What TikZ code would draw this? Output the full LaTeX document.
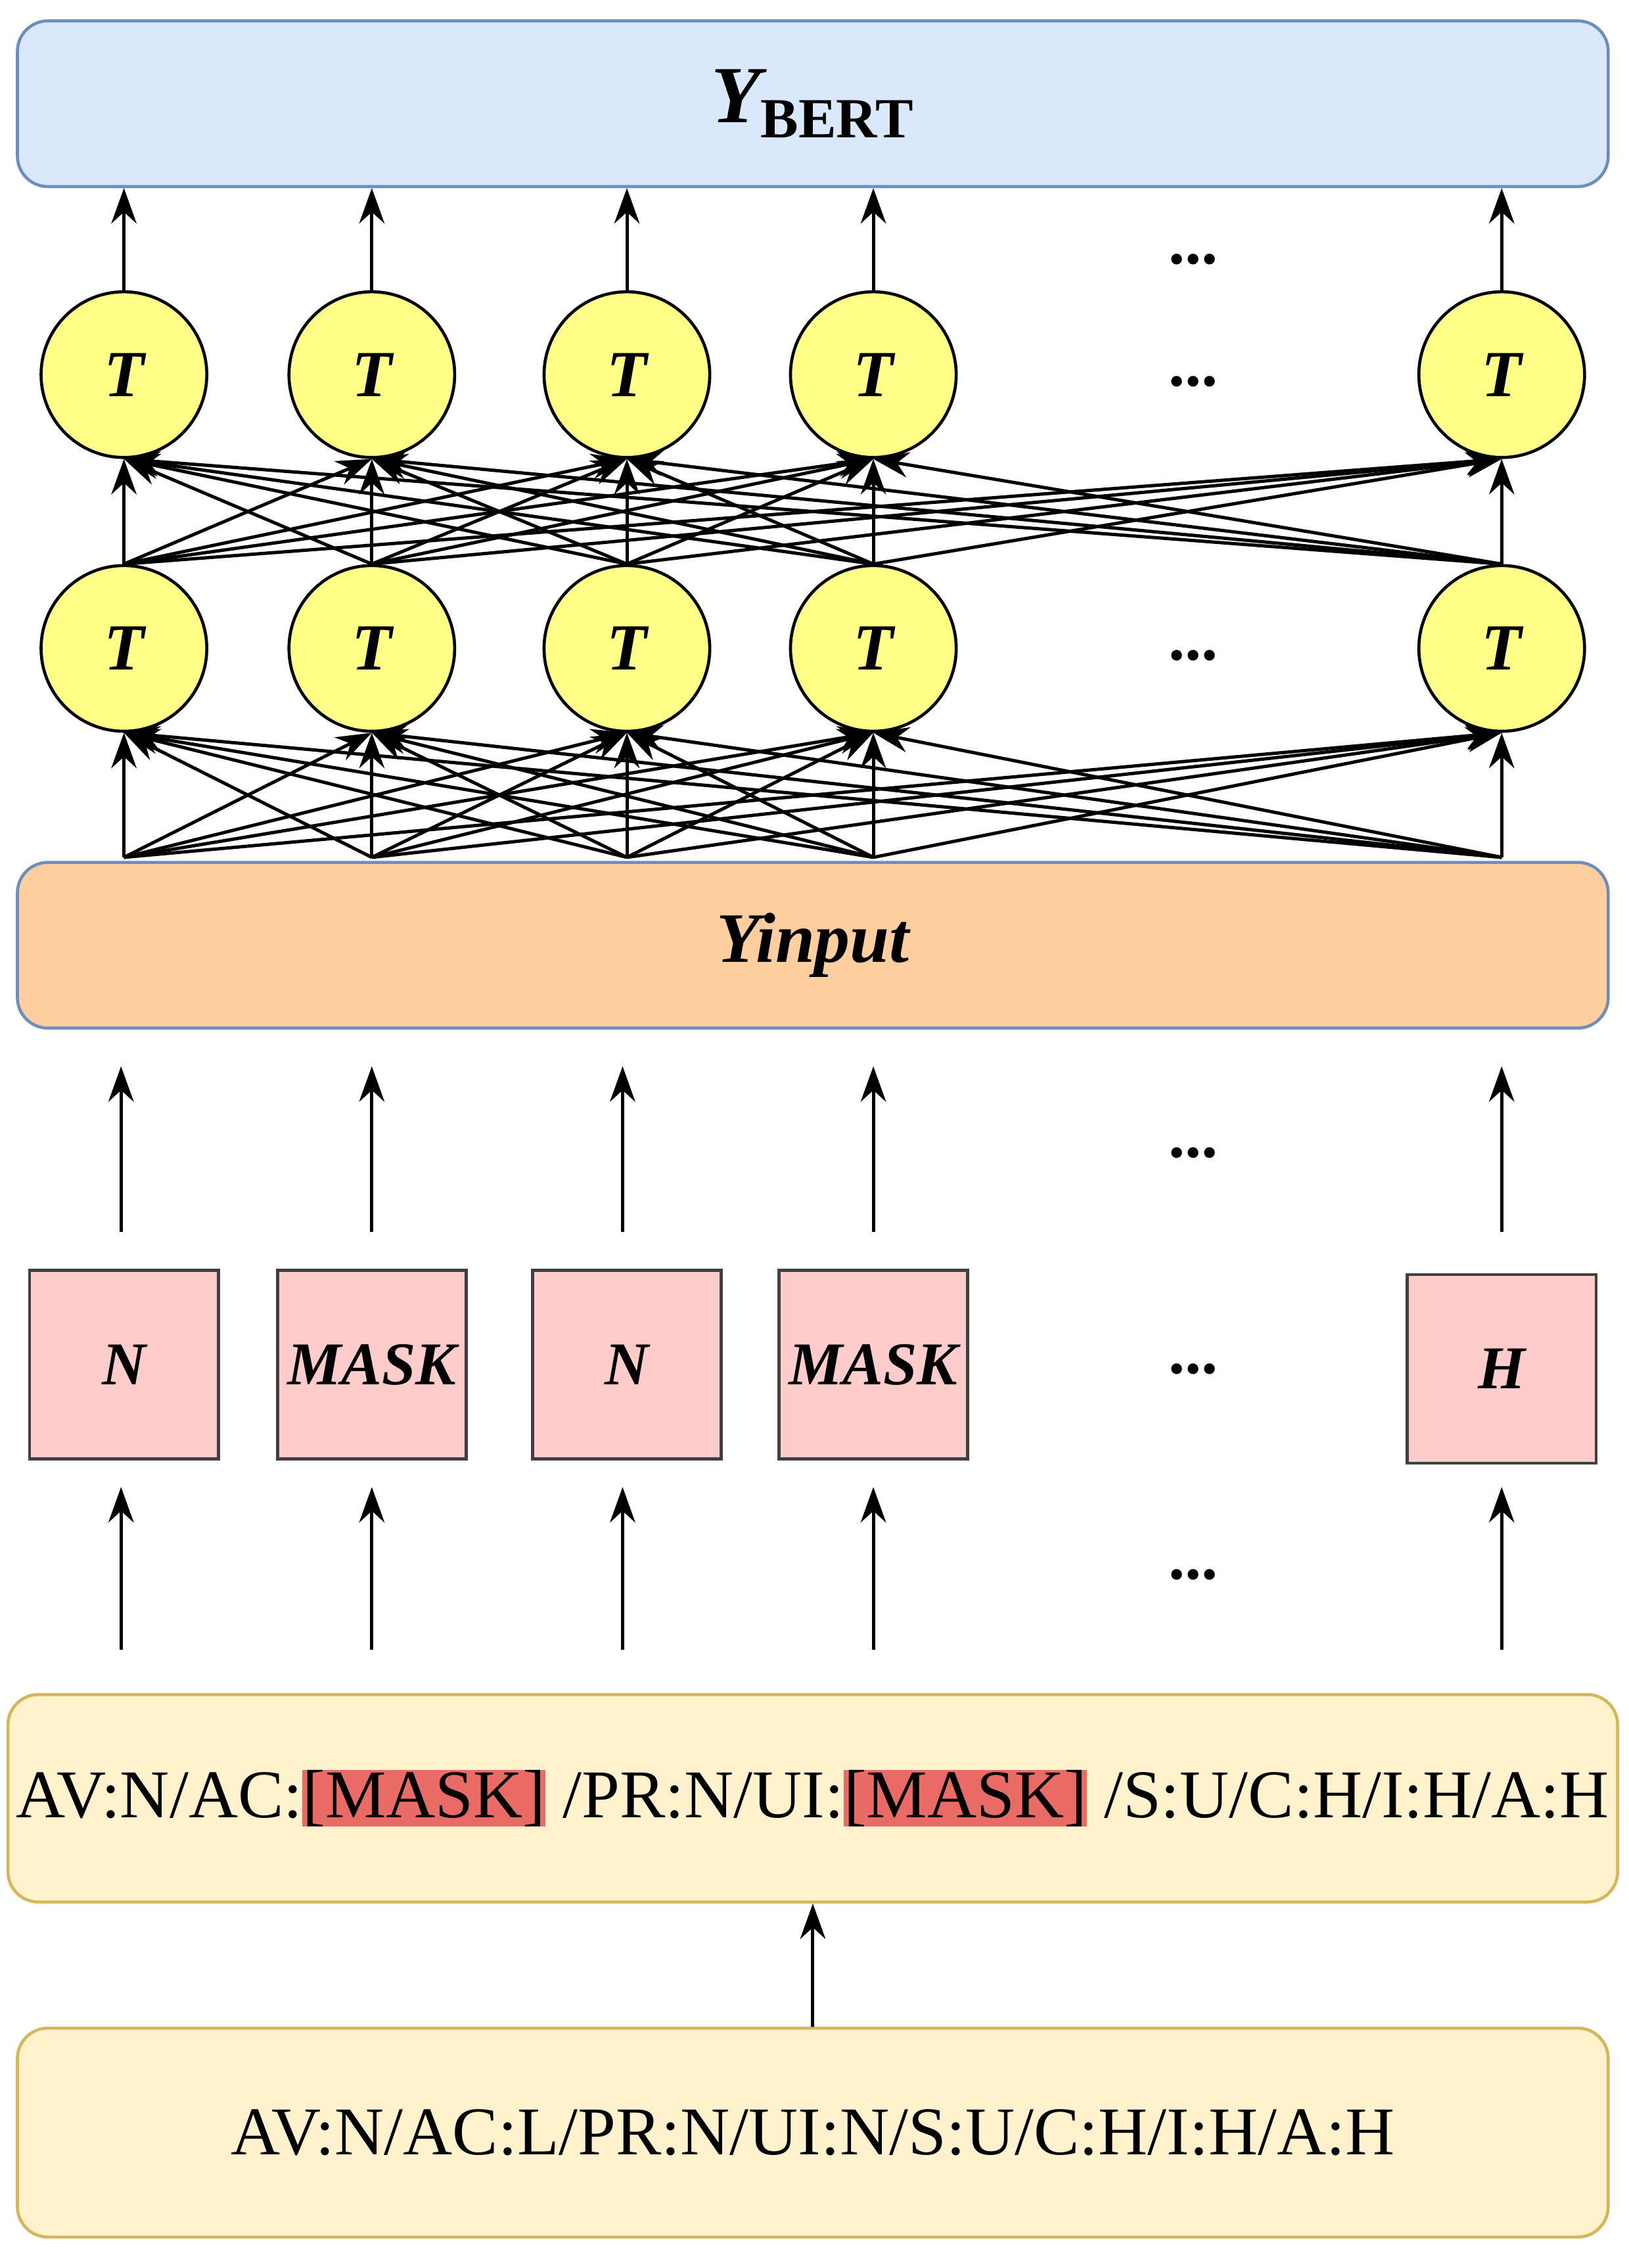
\documentclass[tikz,border=0pt]{standalone}
\usepackage{fontspec}
\setmainfont{Liberation Serif}
\usetikzlibrary{arrows.meta}
\definecolor{bluef}{HTML}{DAE8FC}\definecolor{blues}{HTML}{6C8EBF}
\definecolor{orf}{HTML}{FFCE9F}\definecolor{yelf}{HTML}{FFF2CC}\definecolor{yels}{HTML}{D6B656}
\definecolor{pinkf}{HTML}{FFCCCC}\definecolor{circf}{HTML}{FFFF88}\definecolor{maskred}{HTML}{EA6B66}
\begin{document}
\begin{tikzpicture}[x=0.02cm,y=-0.02cm,
 bigbox/.style={draw,line width=1.2pt,rounded corners=12pt,minimum width=22.08cm,minimum height=2.3cm},
 circ/.style={circle,draw,line width=1.2pt,fill=circf,minimum size=2.3cm,inner sep=0pt,font=\fontsize{26}{30}\selectfont\bfseries\itshape},
 sq/.style={draw=black!75,line width=1.2pt,fill=pinkf,minimum size=2.62cm,inner sep=0pt,font=\fontsize{24}{28}\selectfont\bfseries\itshape},
 arr/.style={-{Stealth[length=14pt,width=10pt]},line width=1.3pt},
 dots/.style={font=\fontsize{26}{30}\selectfont\bfseries}]
\useasboundingbox (0,0) rectangle (1130,1574);
\node[bigbox,fill=bluef,draw=blues] (ybert) at (564,72) {\fontsize{32}{36}\selectfont\bfseries\itshape Y\textsubscript{\upshape BERT}};
\node[bigbox,fill=orf,draw=blues] (yin) at (564,656) {\fontsize{28}{32}\selectfont\bfseries\itshape Yinput};
\node[bigbox,fill=yelf,draw=yels,minimum height=2.88cm] (mid) at (564,1248) {\fontsize{27}{32}\selectfont AV:N/AC:{\setlength\fboxsep{0pt}\colorbox{maskred}{[MASK]}} /PR:N/UI:{\setlength\fboxsep{0pt}\colorbox{maskred}{[MASK]}} /S:U/C:H/I:H/A:H};
\node[bigbox,fill=yelf,draw=yels,minimum height=2.9cm] (bot) at (564,1480) {\fontsize{27}{32}\selectfont AV:N/AC:L/PR:N/UI:N/S:U/C:H/I:H/A:H};
\draw[arr] (bot.north) -- (mid.south);
\foreach \i/\x in {1/86,2/258,3/435,4/606,5/1042}{
  \node[circ] (t\i) at (\x,260) {T};
  \node[circ] (b\i) at (\x,450) {T};
  \coordinate (yi\i) at (\x,595);
  \draw[arr] (t\i.north) -- (t\i.north |- ybert.south);
}
\foreach \i in {1,...,5}{\foreach \j in {1,...,5}{
  \draw[arr] (b\i.north) -- (t\j.south);
  \draw[arr] (yi\i) -- (b\j.south);
}}
\node[sq] (s1) at (86,947) {N};
\node[sq] (s2) at (258,947) {MASK};
\node[sq] (s3) at (435,947) {N};
\node[sq] (s4) at (606,947) {MASK};
\node[sq] (s5) at (1042,950) {H};
\foreach \i/\x in {1/84,2/258,3/432,4/606,5/1042}{
  \coordinate (ua\i) at (\x,855); \coordinate (ub\i) at (\x,740);
  \draw[arr] (ua\i) -- (ub\i);
  \coordinate (la\i) at (\x,1145); \coordinate (lb\i) at (\x,1032);
  \draw[arr] (la\i) -- (lb\i);
}
\foreach \n/\y in {d1/180,d2/265,d3/455,d4/800,d5/950,d6/1093}{\node[dots] (\n) at (828,\y) {...};}
\end{tikzpicture}
\end{document}
